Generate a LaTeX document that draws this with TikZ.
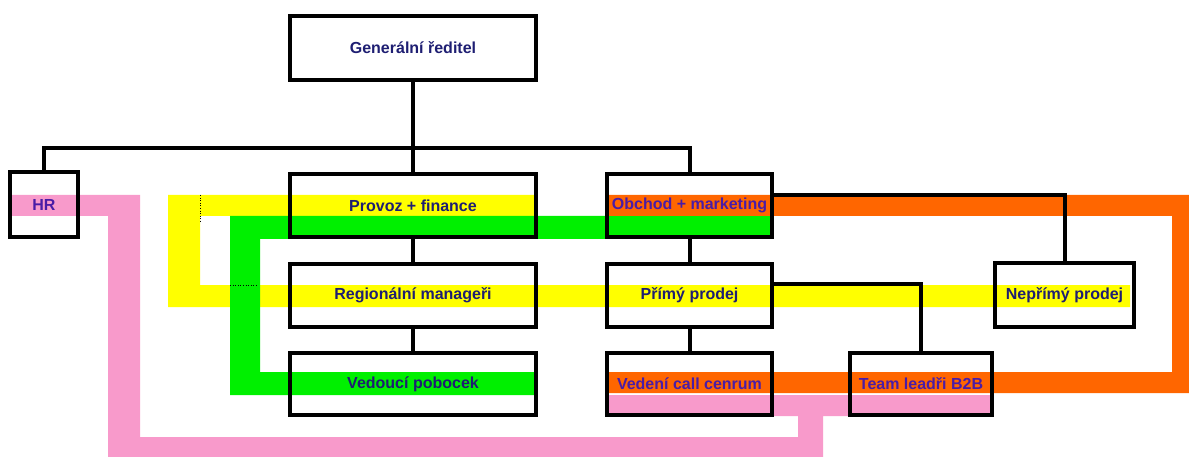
\documentclass[tikz,border=0pt]{standalone}
\usepackage{fontspec}
\setmainfont{Liberation Sans}
\definecolor{bYellow}{HTML}{FFFF00}
\definecolor{bGreen}{HTML}{00F000}
\definecolor{bOrange}{HTML}{FF6600}
\definecolor{bPink}{HTML}{F89ACB}
\definecolor{txNavy}{HTML}{1E1E72}
\definecolor{txPurple}{HTML}{4A1CA6}
\begin{document}
\begin{tikzpicture}[x=1pt,y=-1pt,
  orgbox/.style={draw=black,line width=4pt,inner sep=0pt,font=\fontsize{16}{18}\selectfont\bfseries,text=txNavy},
  purple/.style={text=txPurple},
  link/.style={draw=black,line width=4pt},
  dots/.style={draw=black,line width=0.6pt,dotted}]
\useasboundingbox (0,0) rectangle (1189,457);
% colour bands
\fill[bYellow] (168,195) -- (536,195) -- (536,216) -- (200,216) -- (200,285) -- (1130,285) -- (1130,307) -- (168,307) -- cycle;
\fill[bGreen] (230,216) -- (772,216) -- (772,239) -- (260,239) -- (260,372) -- (536,372) -- (536,395) -- (230,395) -- cycle;
\fill[bOrange] (607,195) -- (1189,195) -- (1189,393) -- (607,393) -- (607,372) -- (1172,372) -- (1172,216) -- (607,216) -- cycle;
\fill[bPink] (10,195) -- (140,195) -- (140,437) -- (798,437) -- (798,416) -- (607,416) -- (607,395) -- (992,395) -- (992,416) -- (823,416) -- (823,457) -- (108,457) -- (108,216) -- (10,216) -- cycle;
\draw[dots] (200,195) -- (200,222);
\draw[dots] (230,285) -- (258,285);
% boxes
\node[orgbox,minimum width=246pt,minimum height=64pt] (gen) at (413,48) {Generální ředitel};
\node[orgbox,purple,minimum width=68pt,minimum height=65pt] (hr) at (44,204.5) {HR};
\node[orgbox,minimum width=246pt,minimum height=63pt] (prov) at (413,205.5) {Provoz + finance};
\node[orgbox,minimum width=246pt,minimum height=63pt] (reg) at (413,295.5) {Regionální manageři};
\node[orgbox,minimum width=246pt,minimum height=62pt] (ved) at (413,384) {Vedoucí pobocek};
\node[orgbox,purple,minimum width=165pt,minimum height=63pt] (obch) at (689.5,205.5) {Obchod + marketing};
\node[orgbox,minimum width=165pt,minimum height=63pt] (prim) at (689.5,295.5) {Přímý prodej};
\node[orgbox,purple,minimum width=165pt,minimum height=62pt] (vcc) at (689.5,384) {Vedení call cenrum};
\node[orgbox,purple,minimum width=142pt,minimum height=62pt] (team) at (921,384) {Team leadři B2B};
\node[orgbox,minimum width=139pt,minimum height=64pt] (nep) at (1064.5,295) {Nepřímý prodej};
% connectors
\coordinate (bar) at (0,148);
\draw[link] (gen.south) -- (prov.north);
\draw[link] (hr.north) -- (hr.north |- bar) -- (obch.north |- bar) -- (obch.north);
\draw[link] (prov.south) -- (reg.north);
\draw[link] (reg.south) -- (ved.north);
\draw[link] (obch.south) -- (prim.north);
\draw[link] (prim.south) -- (vcc.north);
\draw[link] ([yshift=10.5pt]obch.east) -| (nep.north);
\draw[link] ([yshift=11.5pt]prim.east) -| (team.north);
\end{tikzpicture}
\end{document}
